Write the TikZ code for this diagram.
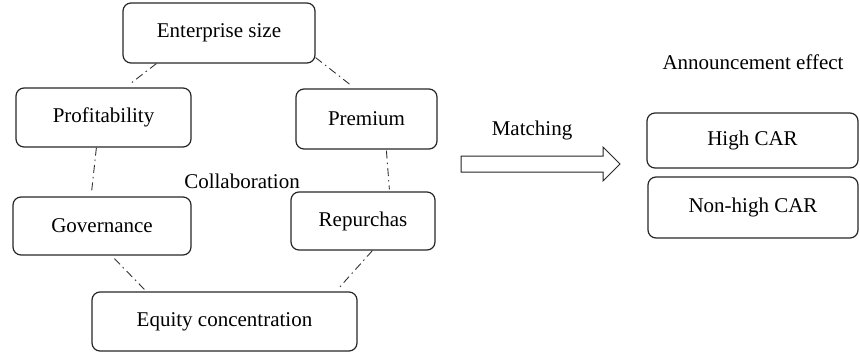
\documentclass[tikz,border=0pt]{standalone}
\usepackage{fontspec}
\setmainfont{Liberation Serif}
\begin{document}
\begin{tikzpicture}[x=1pt,y=-1pt,
  box/.style={draw=black!85, line width=1.2pt, rounded corners=8pt, rectangle, inner sep=0pt,
    font=\fontsize{21}{24}\selectfont},
  link/.style={draw=black!80, line width=0.9pt, dash pattern=on 8pt off 4pt on 1.5pt off 4pt},
  lbl/.style={font=\fontsize{21}{24}\selectfont, inner sep=0pt}]
\useasboundingbox (0,0) rectangle (860,356);
\node[box, minimum width=192pt, minimum height=60pt] (ent) at (219,33) {Enterprise size};
\node[box, minimum width=175pt, minimum height=59pt] (prof) at (103.5,117.5) {Profitability};
\node[box, minimum width=141pt, minimum height=60pt] (prem) at (366.5,119) {Premium};
\node[box, minimum width=178pt, minimum height=58pt] (gov) at (102,226) {Governance};
\node[box, minimum width=144pt, minimum height=58pt] (rep) at (363,221) {Repurchas};
\node[box, minimum width=265pt, minimum height=59pt] (eq) at (224.5,321.5) {Equity concentration};
\node[box, minimum width=211pt, minimum height=55pt] (high) at (752.5,140.5) {High CAR};
\node[box, minimum width=210pt, minimum height=61pt] (non) at (753,207.5) {Non-high CAR};
\node[lbl] (collab) at (242,181) {Collaboration};
\node[lbl] (match) at (532,130) {Matching};
\node[lbl] (ann) at (753,62) {Announcement effect};
\draw[link] ([shift={(34,0)}]ent.south west) -- ([shift={(114,-3)}]prof.north west);
\draw[link] ([shift={(0,-6)}]ent.south east) -- ([shift={(57,-2)}]prem.north west);
\draw[link] ([shift={(81,0)}]prof.south west) -- ([shift={(79,-3)}]gov.north west);
\draw[link] ([shift={(91,1)}]prem.south west) -- ([shift={(99,-2)}]rep.north west);
\draw[link] ([shift={(102,3)}]gov.south west) -- ([shift={(53,-2)}]eq.north west);
\draw[link] ([shift={(82,0)}]rep.south west) -- ([shift={(248,-4)}]eq.north west);
\draw[draw=black!85, line width=1pt, fill=white]
  (461,156) -- (603,156) -- (603,147) -- (620,164) -- (603,181) -- (603,172) -- (461,172) -- cycle;
\end{tikzpicture}
\end{document}
